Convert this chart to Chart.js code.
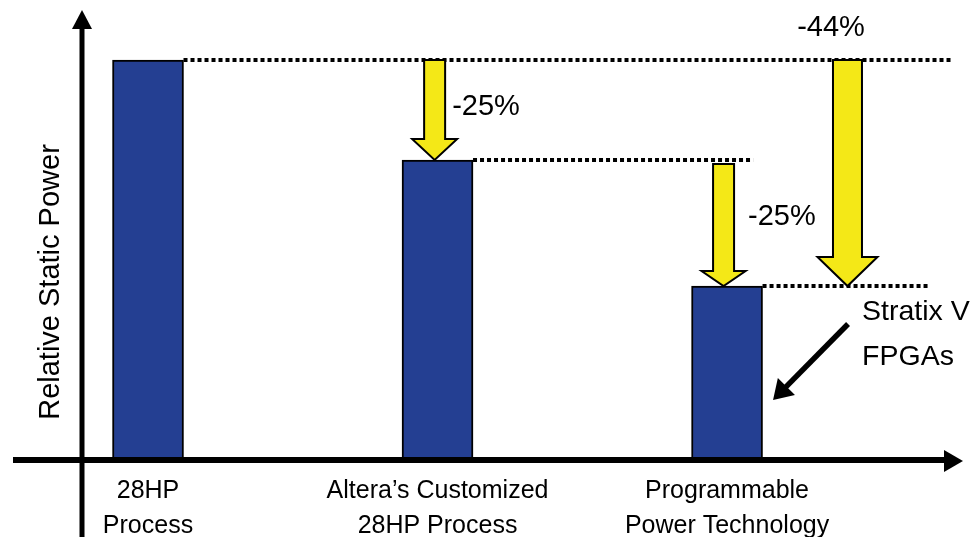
<!DOCTYPE html>
<html>
<head>
<meta charset="utf-8">
<script src="https://cdn.jsdelivr.net/npm/chart.js@4.4.1/dist/chart.umd.min.js"></script>
<style>
html, body { margin: 0; padding: 0; background: #ffffff; }
#wrap { width: 978px; height: 537px; position: relative; }
</style>
</head>
<body>
<div id="wrap"><canvas id="c" width="978" height="537"></canvas></div>
<script>
// ---- data ----
const categories = [["28HP", "Process"], ["Altera\u2019s Customized", "28HP Process"], ["Programmable", "Power Technology"]];
const categoryPositions = [1, 2, 3];
const relativeStaticPower = [100, 75, 43.5];
const reductionFrom = [0, 1, 0];
const reductionTo = [1, 2, 2];
const reductionLabels = ["-25%", "-25%", "-44%"];
const calloutText = ["Stratix V", "FPGAs"];
const yAxisTitle = "Relative Static Power";

// ---- style ----
const FONT = '"Liberation Sans", Arial, Helvetica, sans-serif';
const BAR_BLUE = '#243F92';
const ARROW_YELLOW = '#F4E817';
Chart.defaults.font.family = FONT;
Chart.defaults.color = '#000';

function downArrow(ctx, cx, top, tip, shaft, head, headLen) {
  const hb = tip - headLen;
  ctx.beginPath();
  ctx.moveTo(cx - shaft / 2, top);
  ctx.lineTo(cx + shaft / 2, top);
  ctx.lineTo(cx + shaft / 2, hb);
  ctx.lineTo(cx + head / 2, hb);
  ctx.lineTo(cx, tip);
  ctx.lineTo(cx - head / 2, hb);
  ctx.lineTo(cx - shaft / 2, hb);
  ctx.closePath();
  ctx.fillStyle = ARROW_YELLOW;
  ctx.fill();
  ctx.lineWidth = 2;
  ctx.lineJoin = 'miter';
  ctx.strokeStyle = '#000';
  ctx.stroke();
}

const decorations = {
  id: 'decorations',
  afterLayout(chart, args, opts) {
    const y = chart.scales.y;
    y.top += opts.titleShift;
    y.bottom += opts.titleShift;
  },
  afterDatasetsDraw(chart, args, opts) {
    const { ctx, chartArea: ca, scales: { x, y } } = chart;
    const bars = chart.getDatasetMeta(0).data;
    const barRight = i => bars[i].x + bars[i].width / 2;
    const vy = i => y.getPixelForValue(relativeStaticPower[i]);
    ctx.save();

    // dotted guide lines
    ctx.strokeStyle = '#000';
    ctx.lineWidth = 4;
    ctx.setLineDash([4, 3]);
    opts.guideEnds.forEach((xe, i) => {
      ctx.beginPath();
      ctx.moveTo(barRight(i), vy(i));
      ctx.lineTo(x.getPixelForValue(xe), vy(i));
      ctx.stroke();
    });
    ctx.setLineDash([]);

    // reduction arrows
    const geo = opts.arrows.map((a, k) => {
      const cx = x.getPixelForValue(a.x);
      const top = vy(reductionFrom[k]) + a.gap;
      const tip = vy(reductionTo[k]);
      downArrow(ctx, cx, top, tip, a.shaft, a.head, a.headLen);
      return { cx, top, tip };
    });
    // reduction labels
    ctx.fillStyle = '#000';
    ctx.font = '29px ' + FONT;
    ctx.textBaseline = 'middle';
    opts.arrows.forEach((a, k) => {
      const g = geo[k];
      ctx.textAlign = a.align;
      const ly = a.anchor === 'top' ? g.top + a.dy : (g.top + g.tip) / 2 + a.dy;
      ctx.fillText(reductionLabels[k], g.cx + a.dx, ly);
    });

    // callout
    const br = barRight(2), bt = vy(2);
    const c = opts.callout;
    ctx.textAlign = 'left';
    ctx.font = '28.5px ' + FONT;
    calloutText.forEach((t, i) => ctx.fillText(t, br + c.textDx, bt + c.textDy[i]));
    const sx = br + c.from[0], sy = bt + c.from[1];
    const tx = br + c.to[0], ty = bt + c.to[1];
    const len = Math.hypot(tx - sx, ty - sy);
    const ux = (tx - sx) / len, uy = (ty - sy) / len;
    const bx = tx - ux * c.headLen, byy = ty - uy * c.headLen;
    ctx.strokeStyle = '#000';
    ctx.lineWidth = 5.5;
    ctx.beginPath();
    ctx.moveTo(sx, sy);
    ctx.lineTo(bx + ux * 2, byy + uy * 2);
    ctx.stroke();
    ctx.beginPath();
    ctx.moveTo(tx, ty);
    ctx.lineTo(bx - uy * c.headHalf, byy + ux * c.headHalf);
    ctx.lineTo(bx + uy * c.headHalf, byy - ux * c.headHalf);
    ctx.closePath();
    ctx.fill();

    // axes with arrow heads
    const ax = opts.axis;
    ctx.fillRect(ca.left - ax.xOverhang, ca.bottom - ax.xThick / 2, (ca.right - ax.headLen) - (ca.left - ax.xOverhang), ax.xThick);
    ctx.beginPath();
    ctx.moveTo(ca.right - ax.headLen - 1, ca.bottom - ax.headHalf);
    ctx.lineTo(ca.right, ca.bottom + 1);
    ctx.lineTo(ca.right - ax.headLen - 1, ca.bottom + ax.headHalf + 2);
    ctx.closePath();
    ctx.fill();
    ctx.fillRect(ca.left - ax.yThick / 2, ca.top + ax.headLen, ax.yThick, chart.height - ca.top - ax.headLen);
    ctx.beginPath();
    ctx.moveTo(ca.left - ax.headHalf, ca.top + ax.headLen + 1);
    ctx.lineTo(ca.left, ca.top);
    ctx.lineTo(ca.left + ax.headHalf, ca.top + ax.headLen + 1);
    ctx.closePath();
    ctx.fill();

    ctx.restore();
  }
};

new Chart(document.getElementById('c'), {
  type: 'bar',
  data: {
    datasets: [{
      data: categoryPositions.map((p, i) => ({ x: p, y: relativeStaticPower[i] })),
      backgroundColor: BAR_BLUE,
      borderColor: '#000',
      borderWidth: 2,
      barThickness: 71
    }]
  },
  options: {
    responsive: false,
    animation: false,
    events: [],
    layout: { padding: { top: 10, right: 15, bottom: 0, left: 0 } },
    plugins: {
      legend: { display: false },
      tooltip: { enabled: false },
      decorations: {
        titleShift: 47,
        guideEnds: [3.78, 3.09, 3.70],
        arrows: [
          { x: 1.99, gap: 0, shaft: 21, head: 45, headLen: 21, align: 'left', anchor: 'mid', dx: 17.5, dy: -3 },
          { x: 2.988, gap: 4, shaft: 21, head: 44, headLen: 15, align: 'left', anchor: 'mid', dx: 24.5, dy: -8 },
          { x: 3.416, gap: 0, shaft: 29, head: 60, headLen: 29, align: 'center', anchor: 'top', dx: -16.5, dy: -32 }
        ],
        callout: { textDx: 99.5, textDy: [26.5, 71], from: [85.5, 38], to: [10.5, 114], headLen: 19, headHalf: 12 },
        axis: { xOverhang: 69, xThick: 6, yThick: 5, headLen: 18, headHalf: 10 }
      }
    },
    scales: {
      x: {
        type: 'linear',
        offset: false,
        min: 0.772,
        max: 3.815,
        grid: { display: false, offset: false },
        border: { display: false },
        afterBuildTicks: s => { s.ticks = categoryPositions.map(v => ({ value: v })); },
        afterFit: s => { s.height = 77; },
        ticks: {
          autoSkip: false,
          maxRotation: 0,
          padding: 6,
          color: '#000',
          font: { size: 25, lineHeight: 1.38 },
          callback: (v, i) => categories[i]
        }
      },
      y: {
        min: 0,
        max: 112.5,
        grid: { display: false },
        border: { display: false },
        ticks: { display: false },
        afterFit: s => { s.width = 82; },
        title: {
          display: true,
          text: yAxisTitle,
          color: '#000',
          font: { size: 29 },
          padding: { top: 34, bottom: 0 }
        }
      }
    }
  },
  plugins: [decorations]
});
</script>
</body>
</html>
